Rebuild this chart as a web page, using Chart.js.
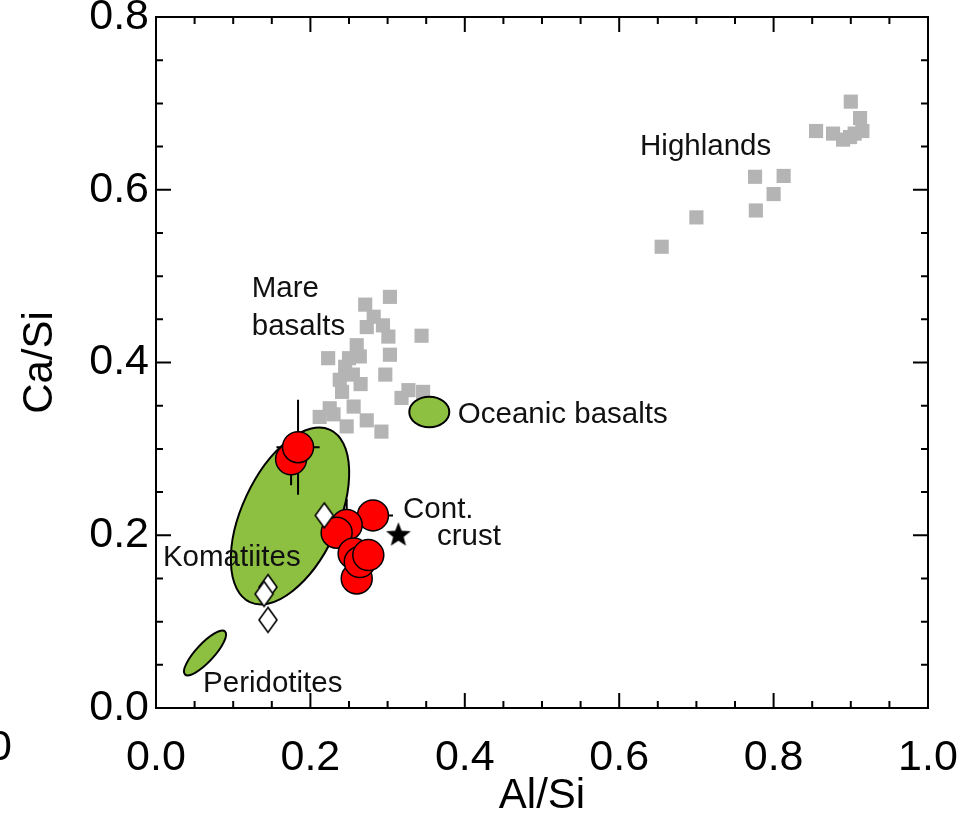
<!DOCTYPE html>
<html>
<head>
<meta charset="utf-8">
<script src="https://cdn.jsdelivr.net/npm/chart.js@4.4.1/dist/chart.umd.min.js"></script>
<style>
  html, body { margin: 0; padding: 0; background: #fff; }
  #wrap { width: 970px; height: 822px; }
</style>
</head>
<body>
<div id="wrap"><canvas id="c" width="970" height="822"></canvas></div>
<script>
// axis ticks
const xTicks = [0, 0.2, 0.4, 0.6, 0.8, 1.0];
const yTicks = [0, 0.2, 0.4, 0.6, 0.8];
const xMinor = [0.05, 0.1, 0.15, 0.25, 0.3, 0.35, 0.45, 0.5, 0.55, 0.65, 0.7, 0.75, 0.85, 0.9, 0.95];
const yMinor = [0.05, 0.1, 0.15, 0.25, 0.3, 0.35, 0.45, 0.5, 0.55, 0.65, 0.7, 0.75];

// lunar highlands (gray squares)
const highlandsX = [0.655, 0.700, 0.776, 0.813, 0.800, 0.777, 0.855, 0.877, 0.890, 0.899, 0.905, 0.915, 0.912, 0.900];
const highlandsY = [0.534, 0.568, 0.615, 0.616, 0.595, 0.576, 0.668, 0.665, 0.658, 0.661, 0.665, 0.668, 0.683, 0.702];

// mare basalts (gray squares)
const mareX = [0.303, 0.271, 0.294, 0.273, 0.344, 0.301, 0.260, 0.303, 0.223, 0.245, 0.264, 0.297, 0.238, 0.255,
               0.241, 0.225, 0.212, 0.256, 0.273, 0.247, 0.292, 0.327, 0.346, 0.318, 0.250, 0.265, 0.230, 0.282];
const mareY = [0.476, 0.467, 0.443, 0.441, 0.431, 0.430, 0.420, 0.409, 0.405, 0.395, 0.407, 0.386, 0.380, 0.386,
               0.366, 0.347, 0.337, 0.349, 0.333, 0.326, 0.320, 0.368, 0.366, 0.359, 0.405, 0.375, 0.340, 0.453];

// red circles with error bars
const redX = [0.175, 0.184, 0.281, 0.247, 0.234, 0.260, 0.256, 0.264, 0.275];
const redY = [0.288, 0.302, 0.223, 0.212, 0.203, 0.150, 0.179, 0.169, 0.177];
const redErrX = [0.012, 0.028, 0.026, 0.010, 0.018, 0.010, 0.010, 0.010, 0.010];
const redErrY = [0.030, 0.055, 0.010, 0.030, 0.010, 0.010, 0.024, 0.010, 0.010];

// open diamonds
const diamondX = [0.218, 0.145, 0.140, 0.145];
const diamondY = [0.223, 0.140, 0.132, 0.102];

// continental crust star
const starX = [0.314];
const starY = [0.200];

// fields: centre and two half-axis vectors, data units
const fieldName = ['Komatiites', 'Peridotites', 'Oceanic basalts'];
const fieldCx = [0.1736, 0.0635, 0.354];
const fieldCy = [0.2223, 0.0637, 0.3427];
const fieldUx = [0.0520, 0.0259, 0.0259];
const fieldUy = [0.0997, 0.0249, 0.0];
const fieldVx = [0.0563, 0.0085, 0.0];
const fieldVy = [-0.0235, -0.0071, 0.0177];

// text labels (left edge, vertical centre)
const labelText = ['Highlands', 'Mare', 'basalts', 'Oceanic basalts', 'Cont.', 'crust', 'Komatiites', 'Peridotites'];
const labelX = [0.627, 0.124, 0.124, 0.391, 0.320, 0.364, 0.009, 0.061];
const labelY = [0.650, 0.485, 0.441, 0.339, 0.229, 0.198, 0.174, 0.028];

const FONT = '"Liberation Sans", Arial, Helvetica, sans-serif';
const GRAY = 'rgb(180,180,180)';
const GREEN = '#8dc040';

const pts = (xs, ys) => xs.map((x, i) => ({ x: x, y: ys[i] }));

function makeDiamond(w, h) {
  const c = document.createElement('canvas');
  c.width = w + 4; c.height = h + 4;
  const g = c.getContext('2d');
  const cx = c.width / 2, cy = c.height / 2;
  g.beginPath();
  g.moveTo(cx, cy - h / 2);
  g.lineTo(cx + w / 2, cy);
  g.lineTo(cx, cy + h / 2);
  g.lineTo(cx - w / 2, cy);
  g.closePath();
  g.fillStyle = '#fff';
  g.fill();
  g.lineWidth = 1.6;
  g.strokeStyle = '#000';
  g.stroke();
  return c;
}

function makeStar(R, r) {
  const c = document.createElement('canvas');
  c.width = c.height = 2 * R + 4;
  const g = c.getContext('2d');
  g.beginPath();
  for (let i = 0; i < 10; i++) {
    const a = -Math.PI / 2 + i * Math.PI / 5;
    const rr = i % 2 ? r : R;
    g.lineTo(c.width / 2 + rr * Math.cos(a), c.height / 2 + rr * Math.sin(a));
  }
  g.closePath();
  g.fillStyle = '#000';
  g.fill();
  return c;
}

// Chart.js paints datasets from the last index to the first,
// so the mare squares (index 3) are done just before the symbols
const MARE_INDEX = 3;

// ellipses and error bars go between the gray squares and the symbols
const fieldsPlugin = {
  id: 'fields',
  afterDatasetDraw(chart, args) {
    if (args.index !== MARE_INDEX) return;
    const ctx = chart.ctx;
    const xs = chart.scales.x, ys = chart.scales.y;
    ctx.save();
    for (let i = 0; i < fieldCx.length; i++) {
      const cx = xs.getPixelForValue(fieldCx[i]);
      const cy = ys.getPixelForValue(fieldCy[i]);
      const ux = xs.getPixelForValue(fieldCx[i] + fieldUx[i]) - cx;
      const uy = ys.getPixelForValue(fieldCy[i] + fieldUy[i]) - cy;
      const vx = xs.getPixelForValue(fieldCx[i] + fieldVx[i]) - cx;
      const vy = ys.getPixelForValue(fieldCy[i] + fieldVy[i]) - cy;
      ctx.save();
      ctx.beginPath();
      ctx.transform(ux, uy, vx, vy, cx, cy);
      ctx.arc(0, 0, 1, 0, Math.PI * 2);
      ctx.restore();
      ctx.fillStyle = GREEN;
      ctx.fill();
      ctx.lineWidth = 2;
      ctx.strokeStyle = '#000';
      ctx.stroke();
    }
    // error bars
    ctx.lineWidth = 2;
    ctx.strokeStyle = '#000';
    for (let i = 0; i < redX.length; i++) {
      const x0 = xs.getPixelForValue(redX[i] - redErrX[i]);
      const x1 = xs.getPixelForValue(redX[i] + redErrX[i]);
      const y0 = ys.getPixelForValue(redY[i] - redErrY[i]);
      const y1 = ys.getPixelForValue(redY[i] + redErrY[i]);
      const px = xs.getPixelForValue(redX[i]);
      const py = ys.getPixelForValue(redY[i]);
      ctx.beginPath();
      ctx.moveTo(x0, py); ctx.lineTo(x1, py);
      ctx.moveTo(px, y0); ctx.lineTo(px, y1);
      ctx.stroke();
    }
    ctx.restore();
  }
};

// frame with inward ticks, and the text labels
const framePlugin = {
  id: 'frame',
  afterDatasetsDraw(chart) {
    const ctx = chart.ctx;
    const a = chart.chartArea;
    const xs = chart.scales.x, ys = chart.scales.y;
    ctx.save();

    ctx.font = '29.5px ' + FONT;
    ctx.fillStyle = '#111';
    ctx.textAlign = 'left';
    ctx.textBaseline = 'middle';
    labelText.forEach((t, i) => {
      ctx.fillText(t, xs.getPixelForValue(labelX[i]), ys.getPixelForValue(labelY[i]));
    });

    ctx.strokeStyle = '#000';
    ctx.lineWidth = 2;
    ctx.strokeRect(a.left, a.top, a.right - a.left, a.bottom - a.top);
    const tickX = (vals, len) => {
      ctx.beginPath();
      vals.forEach(v => {
        const px = xs.getPixelForValue(v);
        ctx.moveTo(px, a.bottom); ctx.lineTo(px, a.bottom - len);
        ctx.moveTo(px, a.top); ctx.lineTo(px, a.top + len);
      });
      ctx.stroke();
    };
    const tickY = (vals, len) => {
      ctx.beginPath();
      vals.forEach(v => {
        const py = ys.getPixelForValue(v);
        ctx.moveTo(a.left, py); ctx.lineTo(a.left + len, py);
        ctx.moveTo(a.right, py); ctx.lineTo(a.right - len, py);
      });
      ctx.stroke();
    };
    tickX(xTicks, 15);
    tickX(xMinor, 7);
    tickY(yTicks, 15);
    tickY(yMinor, 7);

    // clipped label from the neighbouring panel
    ctx.font = '43px ' + FONT;
    ctx.fillStyle = '#000';
    ctx.textAlign = 'right';
    ctx.fillText('1.0', 12, 748);
    ctx.restore();
  }
};

new Chart(document.getElementById('c'), {
  type: 'scatter',
  data: {
    datasets: [
      { label: 'Cont. crust', data: pts(starX, starY), pointStyle: makeStar(13, 5.5) },
      { label: 'Diamonds', data: pts(diamondX, diamondY), pointStyle: makeDiamond(18, 25) },
      { label: 'Samples', data: pts(redX, redY), pointStyle: 'circle', pointRadius: 15.5,
        backgroundColor: '#ff0000', borderColor: '#000', borderWidth: 1.5 },
      { label: 'Mare basalts', data: pts(mareX, mareY), pointStyle: 'rect', pointRadius: 10,
        backgroundColor: GRAY, borderWidth: 0 },
      { label: 'Highlands', data: pts(highlandsX, highlandsY), pointStyle: 'rect', pointRadius: 10,
        backgroundColor: GRAY, borderWidth: 0 }
    ]
  },
  options: {
    responsive: false,
    animation: false,
    devicePixelRatio: 1,
    layout: { padding: { top: 17, right: 42, left: 0, bottom: 0 } },
    plugins: {
      legend: { display: false },
      tooltip: { enabled: false }
    },
    scales: {
      x: {
        type: 'linear', position: 'bottom', min: 0, max: 1,
        grid: { display: false, drawTicks: false },
        border: { display: false },
        afterBuildTicks: s => { s.ticks = xTicks.map(v => ({ value: v })); },
        afterFit: s => { s.height = 114; s.paddingLeft = 0; s.paddingRight = 0; },
        ticks: { color: '#000', padding: 24, font: { family: FONT, size: 43 },
                 maxRotation: 0, callback: v => v.toFixed(1) },
        title: { display: true, text: 'Al/Si', color: '#000', padding: 0,
                 font: { family: FONT, size: 42 } }
      },
      y: {
        type: 'linear', position: 'left', min: 0, max: 0.8,
        grid: { display: false, drawTicks: false },
        border: { display: false },
        afterBuildTicks: s => { s.ticks = yTicks.map(v => ({ value: v })); },
        afterFit: s => { s.width = 156; s.paddingTop = 0; s.paddingBottom = 0; },
        ticks: { color: '#000', padding: 7, font: { family: FONT, size: 43 },
                 callback: v => v.toFixed(1) },
        title: { display: true, text: 'Ca/Si', color: '#000', padding: { top: 15, bottom: 0 },
                 font: { family: FONT, size: 42 } }
      }
    }
  },
  plugins: [fieldsPlugin, framePlugin]
});
</script>
</body>
</html>
